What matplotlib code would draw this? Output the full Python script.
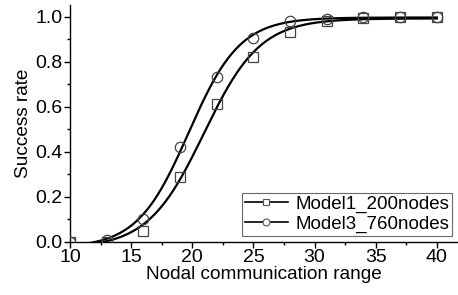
import numpy as np
import matplotlib
matplotlib.use("Agg")
import matplotlib.pyplot as plt
from matplotlib.ticker import MultipleLocator, FormatStrFormatter

# values
comm_range = [10, 13, 16, 19, 22, 25, 28, 31, 34, 37, 40]
model1_200 = [0.0, 0.0, 0.047, 0.286, 0.61, 0.822, 0.932, 0.98, 0.995, 1.0, 1.0]
model3_760 = [0.0, 0.005, 0.10, 0.42, 0.733, 0.907, 0.98, 0.99, 1.0, 1.0, 1.0]
labels = ["Model1_200nodes", "Model3_760nodes"]


def boltzmann_fit(x, y):
    """Least squares Boltzmann sigmoid: A2 + (A1-A2)/(1+exp((x-x0)/dx))."""
    x = np.asarray(x, float)
    y = np.asarray(y, float)
    best = None
    for x0 in np.linspace(15, 25, 201):
        for dx in np.linspace(1.0, 6.0, 101):
            s = 1.0 / (1.0 + np.exp((x - x0) / dx))
            A = np.column_stack([s, 1 - s])
            coef, *_ = np.linalg.lstsq(A, y, rcond=None)
            err = np.sum((A @ coef - y) ** 2)
            if best is None or err < best[0]:
                best = (err, x0, dx, coef)
    _, x0, dx, (a1, a2) = best
    return lambda t: a2 + (a1 - a2) / (1.0 + np.exp((t - x0) / dx))


plt.rcParams["font.family"] = ["Liberation Sans", "DejaVu Sans"]
fig = plt.figure(figsize=(4.58, 2.95), dpi=100)
ax = fig.add_axes([0.153, 0.181, 0.846, 0.802])

xs = np.linspace(10, 40, 400)
for y, mk, lab in [(model1_200, "s", labels[0]), (model3_760, "o", labels[1])]:
    f = boltzmann_fit(comm_range, y)
    ax.plot(xs, f(xs), color="black", lw=1.6, zorder=3)
    ax.plot(comm_range, y, linestyle="none", marker=mk, ms=7.5, mfc="none",
            mec="#444444", mew=0.9, zorder=4)
    ax.plot([], [], color="black", lw=1.2, marker=mk, ms=5.0, mfc="white",
            mec="#555555", mew=0.8, label=lab)

ax.set_xlim(10, 41.7)
ax.set_ylim(0, 1.052)
ax.xaxis.set_major_locator(MultipleLocator(5))
ax.xaxis.set_minor_locator(MultipleLocator(2.5))
ax.yaxis.set_major_locator(MultipleLocator(0.2))
ax.yaxis.set_minor_locator(MultipleLocator(0.1))
ax.yaxis.set_major_formatter(FormatStrFormatter("%.1f"))
ax.spines["top"].set_visible(False)
ax.spines["right"].set_visible(False)
for sp in ("left", "bottom"):
    ax.spines[sp].set_linewidth(1.0)
ax.tick_params(which="major", direction="out", length=4, width=1.0,
               labelsize=14, pad=1.5)
ax.tick_params(which="minor", direction="out", length=2.5, width=1.0)
ax.set_xlabel("Nodal communication range", fontsize=13.7, labelpad=0)
ax.set_ylabel("Success rate", fontsize=13.7, labelpad=2)

leg = ax.legend(loc="lower right", fontsize=13.5, frameon=True, fancybox=False,
                borderpad=0.15, handlelength=2.3, handletextpad=0.4,
                labelspacing=0.15, borderaxespad=0.3, bbox_to_anchor=(1.0, 0.0))
leg.get_frame().set_edgecolor("#444444")
leg.get_frame().set_linewidth(0.8)

fig.savefig("out.png", dpi=100)
